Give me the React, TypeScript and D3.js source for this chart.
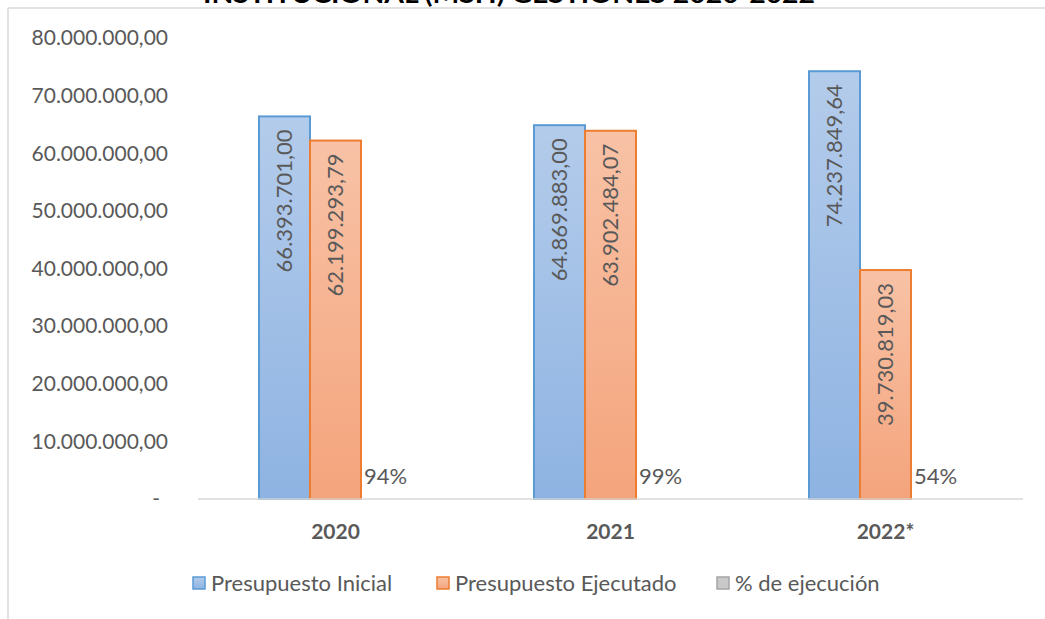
import React from "react";
import * as d3 from "d3";

// data
const years = ["2020", "2021", "2022*"];
const inicial = [66393701.0, 64869883.0, 74237849.64];
const ejecutado = [62199293.79, 63902484.07, 39730819.03];
const ejecucionPct = [94, 99, 54];
const yTicks = [0, 10e6, 20e6, 30e6, 40e6, 50e6, 60e6, 70e6, 80e6];
const seriesNames = ["Presupuesto Inicial", "Presupuesto Ejecutado", "% de ejecución"];
const title = "INSTITUCIONAL (MSH) GESTIONES 2020-2022";

const W = 1045;
const H = 619;
const FONT = "Lato, 'Open Sans', sans-serif";
const GREY = "#595959";

const esLocale = d3.formatLocale({
  decimal: ",",
  thousands: ".",
  grouping: [3],
  currency: ["", ""],
});
const fmt = esLocale.format(",.2f");

const App = () => {
  const y = d3.scaleLinear().domain([0, 80e6]).range([499, 38]);
  const x0 = d3
    .scaleBand()
    .domain(years)
    .range([198, 1023])
    .paddingInner(0.4436)
    .paddingOuter(0.2218);
  const x1 = d3
    .scaleBand()
    .domain(["ini", "eje", "pct"])
    .range([0, x0.bandwidth()]);
  const bw = x1.bandwidth();

  const rows = years.map((yr, i) => ({
    yr,
    ini: inicial[i],
    eje: ejecutado[i],
    pct: ejecucionPct[i],
  }));

  const legendX = [193, 437, 717];
  const legendFill = ["url(#gBlue)", "url(#gOrange)", "#c9c9c9"];
  const legendStroke = ["#5b9bd5", "#ed7d31", "#a5a5a5"];

  return (
    <div>
      <style>{`body{margin:0}`}</style>
      <svg width={W} height={H} style={{ display: "block", background: "#fff" }}>
        <defs>
          <linearGradient id="gBlue" x1="0" y1="0" x2="0" y2="1">
            <stop offset="0" stopColor="#b4cceb" />
            <stop offset="1" stopColor="#8eb3e2" />
          </linearGradient>
          <linearGradient id="gOrange" x1="0" y1="0" x2="0" y2="1">
            <stop offset="0" stopColor="#f8c2a6" />
            <stop offset="1" stopColor="#f4a47c" />
          </linearGradient>
        </defs>

        {/* title, cut off at the top as in the source */}
        <text
          x={509}
          y={3}
          textAnchor="middle"
          fontFamily={FONT}
          fontWeight="bold"
          fontSize={24}
          fill="#000"
          textLength={612}
          lengthAdjust="spacingAndGlyphs"
        >
          {title}
        </text>

        {/* chart frame */}
        <line x1={8} x2={W} y1={8} y2={8} stroke="#d9d9d9" strokeWidth={1.5} />
        <line x1={8} x2={8} y1={8} y2={H} stroke="#d9d9d9" strokeWidth={1.5} />

        {/* y axis labels */}
        {yTicks.map((t) => (
          <text
            key={t}
            x={t === 0 ? 160 : 168}
            y={y(t)}
            dy="0.35em"
            textAnchor="end"
            fontFamily={FONT}
            fontSize={21}
            fill={GREY}
          >
            {t === 0 ? "-" : fmt(t)}
          </text>
        ))}

        {/* bars */}
        {rows.map((r) => {
          const gx = x0(r.yr) as number;
          const xi = gx + (x1("ini") as number);
          const xe = gx + (x1("eje") as number);
          const xp = gx + (x1("pct") as number);
          return (
            <g key={r.yr}>
              <rect
                x={xi}
                y={y(r.ini)}
                width={bw}
                height={y(0) - y(r.ini)}
                fill="url(#gBlue)"
                stroke="#5b9bd5"
                strokeWidth={2}
              />
              <rect
                x={xe}
                y={y(r.eje)}
                width={bw}
                height={y(0) - y(r.eje)}
                fill="url(#gOrange)"
                stroke="#ed7d31"
                strokeWidth={2}
              />
              <text
                transform={`translate(${xi + bw / 2},${y(r.ini) + 13}) rotate(-90)`}
                dy="0.35em"
                textAnchor="end"
                fontFamily={FONT}
                fontSize={22}
                fill={GREY}
              >
                {fmt(r.ini)}
              </text>
              <text
                transform={`translate(${xe + bw / 2},${y(r.eje) + 13}) rotate(-90)`}
                dy="0.35em"
                textAnchor="end"
                fontFamily={FONT}
                fontSize={22}
                fill={GREY}
              >
                {fmt(r.eje)}
              </text>
              <text
                x={xp + bw / 2 - 1}
                y={y(r.pct / 100) - 15}
                textAnchor="middle"
                fontFamily={FONT}
                fontSize={22}
                fill={GREY}
              >
                {r.pct}%
              </text>
              <text
                x={gx + x0.bandwidth() / 2}
                y={539}
                textAnchor="middle"
                fontFamily={FONT}
                fontWeight="bold"
                fontSize={21}
                fill={GREY}
              >
                {r.yr}
              </text>
            </g>
          );
        })}

        {/* baseline */}
        <line x1={198} x2={1023} y1={y(0)} y2={y(0)} stroke="#d9d9d9" strokeWidth={1.5} />

        {/* legend */}
        {seriesNames.map((s, i) => (
          <g key={s} transform={`translate(${legendX[i]},577)`}>
            <rect
              x={0}
              y={0}
              width={12}
              height={12}
              fill={legendFill[i]}
              stroke={legendStroke[i]}
              strokeWidth={1.5}
            />
            <text x={18} y={6} dy="0.35em" fontFamily={FONT} fontSize={22} fill={GREY}>
              {s}
            </text>
          </g>
        ))}
      </svg>
    </div>
  );
};

export default App;
